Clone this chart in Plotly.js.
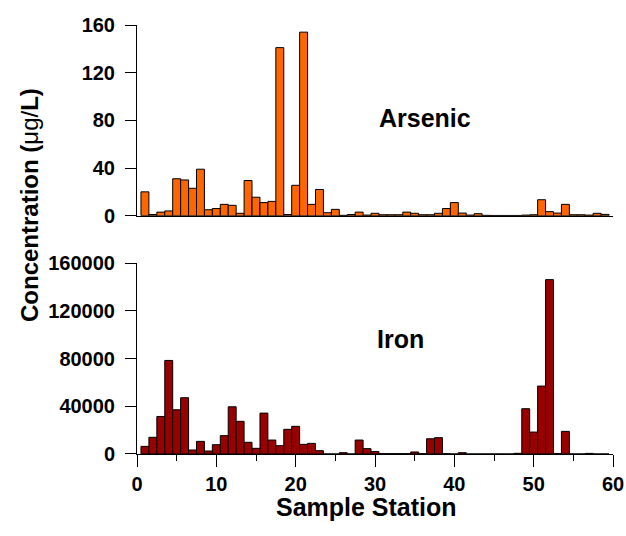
<!DOCTYPE html>
<html>
<head>
<meta charset="utf-8">
<script src="https://cdn.plot.ly/plotly-3.0.1.min.js"></script>
<style>html,body{margin:0;padding:0;background:#fff;}#chart{width:626px;height:536px;}</style>
</head>
<body>
<div id="chart"></div>
<script>
const stations = Array.from({length: 59}, (_, i) => i + 1);
const arsenic = [20,1,3,4,31,30,23,39,5,6,
  9.5,8.7,2,29.5,15.5,11,12,141,1,25.5,
  154,9.5,22,2.5,5.3,0.3,1,3,0.5,2,
  0.8,0.8,0.8,3,2,0.8,0.8,2,6,11,
  2.2,0.5,1.7,0.3,0.2,0.2,0.2,0.2,0.5,0.8,
  13.4,3.4,2.2,9.5,0.8,0.8,0.5,2,1.1];
const iron = [6400,14000,31500,78500,37100,47200,3350,10600,2500,7800,
  15400,39600,27400,9800,4750,34300,11700,7000,20700,23200,
  8100,8900,2800,0,0,1100,0,11700,4500,2000,
  300,300,300,300,1700,300,12800,13700,300,0,
  1100,0,0,0,0,0,0,560,38000,18400,
  57000,146300,300,19000,0,0,500,0,0];
const arsenicTicks = [0,40,80,120,160];
const ironTicks = [0,40000,80000,120000,160000];
const xRange = [0, 60];

const F = '"Liberation Sans", Arial, Helvetica, sans-serif';
const tickFont = {family: F, size: 20, color: '#000', weight: 'bold'};

const traces = [
  {type: 'bar', x: stations, y: arsenic, xaxis: 'x2', yaxis: 'y2', width: 1,
   marker: {color: '#FF6600', line: {color: '#000', width: 1}}, hoverinfo: 'x+y'},
  {type: 'bar', x: stations, y: iron, xaxis: 'x', yaxis: 'y', width: 1,
   marker: {color: '#990000', line: {color: '#000', width: 1}}, hoverinfo: 'x+y'}
];

const yCommon = {showline: true, linecolor: '#000', linewidth: 1, ticks: 'outside', ticklen: 11,
  tickcolor: '#000', tickwidth: 1, showgrid: false, zeroline: false, tickfont: tickFont,
  ticklabelstandoff: 6};

const layout = {
  width: 626, height: 536,
  margin: {l: 137, r: 13, t: 25, b: 82},
  paper_bgcolor: '#fff', plot_bgcolor: '#fff',
  showlegend: false, bargap: 0,
  xaxis: {domain: [0, 1], anchor: 'y', range: xRange, tickmode: 'linear', tick0: 0, dtick: 10,
    showline: true, linecolor: '#000', linewidth: 1, ticks: 'outside', ticklen: 12, tickcolor: '#000',
    tickwidth: 1, showgrid: false, zeroline: false, tickfont: tickFont, ticklabelstandoff: 0,
    minor: {tickmode: 'linear', tick0: 0, dtick: 5, ticks: 'outside', ticklen: 6, tickcolor: '#000', tickwidth: 1, showgrid: false}},
  yaxis: Object.assign({domain: [0, 0.4445], anchor: 'x', range: [0, 160000], tickvals: ironTicks,
    ticktext: ironTicks.map(String)}, yCommon),
  xaxis2: {domain: [0, 1], anchor: 'y2', range: xRange, showline: true, linecolor: '#000', linewidth: 1,
    ticks: '', showticklabels: false, showgrid: false, zeroline: false},
  yaxis2: Object.assign({domain: [0.5555, 1], anchor: 'x2', range: [0, 160], tickvals: arsenicTicks,
    ticktext: arsenicTicks.map(String)}, yCommon),
  annotations: [
    {text: 'Arsenic', xref: 'paper', yref: 'paper', x: 0.604, y: 0.7832, xanchor: 'center', yanchor: 'middle',
     showarrow: false, font: {family: F, size: 25, color: '#000', weight: 'bold'}},
    {text: 'Iron', xref: 'paper', yref: 'paper', x: 0.5546, y: 0.268, xanchor: 'center', yanchor: 'middle',
     showarrow: false, font: {family: F, size: 25, color: '#000', weight: 'bold'}},
    {text: 'Sample Station', xref: 'paper', yref: 'paper', x: 0.4826, y: -0.123, xanchor: 'center', yanchor: 'middle',
     showarrow: false, font: {family: F, size: 25, color: '#000', weight: 'bold'}},
    {text: 'Concentration (<span style="font-weight:normal">μg/</span>L)', xref: 'paper', yref: 'paper',
     x: -0.2269, y: 0.5804, xanchor: 'center', yanchor: 'middle', textangle: -90,
     showarrow: false, font: {family: F, size: 24, color: '#000', weight: 'bold'}}
  ]
};

Plotly.newPlot('chart', traces, layout, {displayModeBar: false, staticPlot: true});
</script>
</body>
</html>
